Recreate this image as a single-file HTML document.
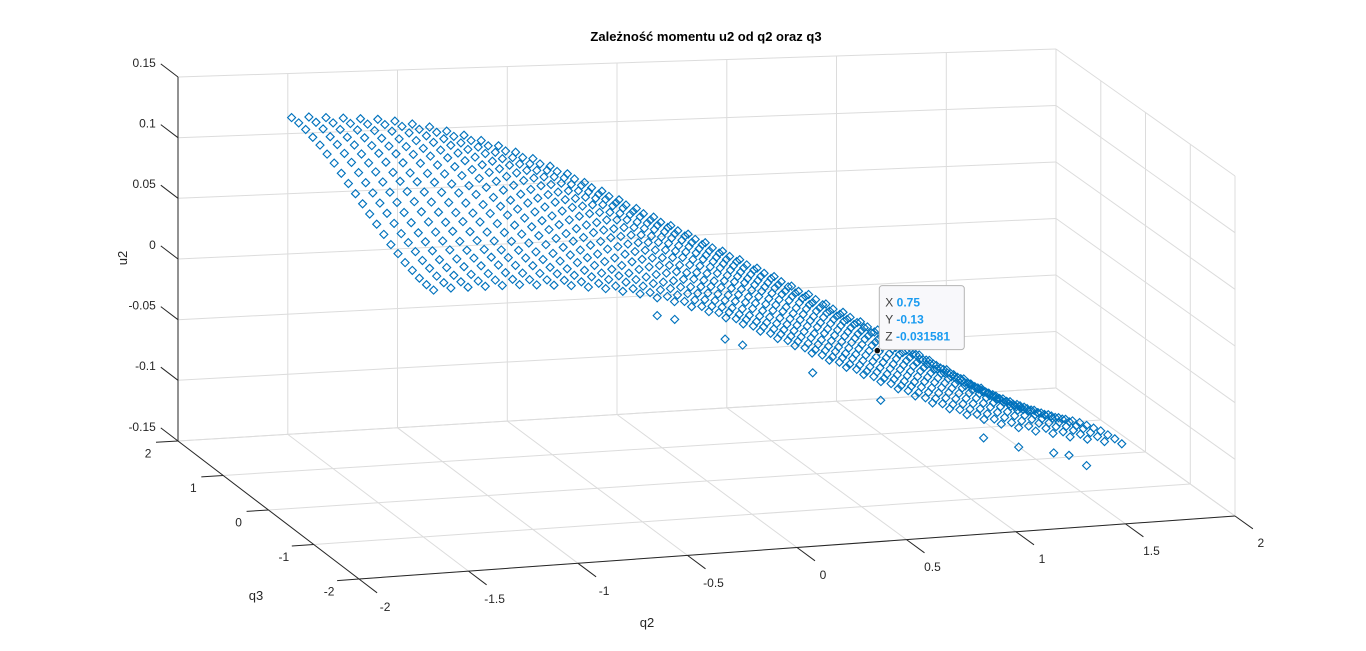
<!DOCTYPE html>
<html><head><meta charset="utf-8"><style>
html,body{margin:0;padding:0;background:#fff;}
svg{display:block;font-family:"Liberation Sans",sans-serif;}
</style></head><body>
<svg id="chart" width="1366" height="651" viewBox="0 0 1366 651" xmlns="http://www.w3.org/2000/svg">
<rect x="0" y="0" width="1366" height="651" fill="#ffffff"/>
<text x="706" y="41" text-anchor="middle" font-size="13" font-weight="bold" fill="#000">Zależność momentu u2 od q2 oraz q3</text>
<g id="grid"></g>
<g id="axes"></g>
<g id="points"></g>
<g id="tip"></g>
</svg>
<script>
const q2Ticks=[-2,-1.5,-1,-0.5,0,0.5,1,1.5,2];
const q2TickLabels=["-2","-1.5","-1","-0.5","0","0.5","1","1.5","2"];
const q3Ticks=[-2,-1,0,1,2];
const q3TickLabels=["-2","-1","0","1","2"];
const u2Ticks=[-0.15,-0.1,-0.05,0,0.05,0.1,0.15];
const u2TickLabels=["-0.15","-0.1","-0.05","0","0.05","0.1","0.15"];
const q2Values=[-1.571,-1.492,-1.414,-1.335,-1.257,-1.178,-1.100,-1.021,-0.942,-0.864,-0.785,-0.707,-0.628,-0.550,-0.471,-0.393,-0.314,-0.236,-0.157,-0.079,0,0.079,0.157,0.236,0.314,0.393,0.471,0.550,0.628,0.707,0.785,0.864,0.942,1.021,1.100,1.178,1.257,1.335,1.414,1.492,1.571];
const q3Values=[-1.571,-1.414,-1.257,-1.100,-0.942,-0.785,-0.628,-0.471,-0.314,-0.157,0,0.157,0.314,0.471,0.628,0.785,0.942,1.100,1.257,1.414,1.571];
const u2Values=[
[.072,.072,.073,.075,.077,.080,.083,.087,.091,.095,.099,.103,.107,.111,.115,.118,.121,.123,.125,.126,.126],
[.073,.073,.074,.076,.078,.081,.084,.087,.091,.095,.099,.103,.107,.111,.115,.118,.121,.123,.125,.126,.126],
[.073,.073,.074,.076,.078,.081,.084,.087,.091,.095,.099,.103,.107,.111,.114,.117,.120,.122,.124,.125,.125],
[.073,.073,.074,.076,.078,.081,.084,.087,.091,.095,.099,.103,.107,.110,.114,.117,.119,.121,.123,.124,.124],
[.073,.073,.074,.076,.078,.080,.083,.087,.090,.094,.098,.102,.106,.109,.113,.116,.118,.120,.122,.123,.123],
[.073,.073,.074,.076,.078,.080,.083,.086,.090,.093,.097,.101,.105,.108,.112,.115,.117,.119,.121,.122,.122],
[.072,.072,.073,.075,.077,.079,.082,.085,.089,.092,.096,.100,.103,.107,.110,.113,.115,.117,.119,.120,.120],
[.071,.071,.072,.074,.076,.078,.081,.084,.087,.091,.094,.098,.101,.105,.108,.111,.113,.115,.116,.117,.117],
[.070,.070,.071,.072,.074,.076,.079,.082,.085,.089,.092,.095,.099,.102,.105,.108,.110,.112,.113,.114,.114],
[.068,.068,.069,.070,.072,.074,.077,.080,.083,.086,.089,.092,.096,.099,.102,.104,.106,.108,.109,.110,.110],
[.066,.066,.067,.068,.070,.072,.074,.077,.080,.083,.086,.089,.092,.095,.098,.100,.102,.104,.105,.106,.106],
[.063,.063,.064,.065,.067,.069,.071,.074,.076,.079,.082,.085,.088,.091,.094,.096,.098,.099,.100,.101,.101],
[.060,.060,.061,.062,.063,.065,.067,.070,.072,.075,.078,.081,.084,.086,.089,.091,.093,.094,.095,.096,.096],
[.056,.056,.057,.058,.059,.061,.063,.066,.068,.071,.073,.076,.079,.081,.083,.085,.087,.088,.089,.090,.090],
[.052,.052,.053,.054,.055,.057,.059,.061,.063,.066,.068,.070,.073,.075,.077,.079,.081,.082,.083,.084,.084],
[.047,.047,.048,.049,.050,.052,.054,.056,.058,.060,.062,.064,.067,.069,.071,.073,.074,.075,.076,.077,.077],
[.042,.042,.043,.044,.045,.046,.048,.050,.052,.054,.056,.058,.060,.062,.064,.066,.067,.068,.069,.070,.070],
[.036,.036,.037,.038,.039,.040,.042,.044,.045,.047,.049,.051,.053,.055,.057,.058,.060,.061,.061,.062,.062],
[.030,.030,.031,.031,.032,.034,.035,.037,.038,.040,.042,.044,.046,.047,.049,.050,.052,.053,.053,.054,.054],
[.023,.023,.024,.024,.025,.027,.028,.030,.031,.033,.035,.037,.038,.040,.041,.043,.044,.045,.045,.046,.046],
[.016,.016,.017,.017,.018,.019,.021,.022,.024,.025,.027,.029,.030,.032,.033,.035,.036,.037,.037,.038,.038],
[.009,.009,.010,.010,.011,.012,.014,.015,.017,.018,.020,.022,.023,.025,.026,.027,.028,.029,.030,.030,.030],
[.002,.002,.003,.003,.004,.005,.006,.007,.009,.010,.012,.014,.015,.017,.018,.019,.020,.021,.022,.022,.022],
[-.005,-.005,-.005,-.004,-.003,-.002,-.001,.000,.002,.003,.005,.006,.008,.009,.010,.011,.012,.013,.014,.014,.014],
[-.012,-.012,-.012,-.011,-.010,-.009,-.008,-.007,-.006,-.004,-.003,-.002,.000,.001,.002,.003,.004,.005,.006,.006,.006],
[-.019,-.019,-.019,-.018,-.017,-.017,-.016,-.015,-.013,-.012,-.011,-.010,-.008,-.007,-.006,-.005,-.004,-.003,-.002,-.002,-.002],
[-.026,-.026,-.026,-.025,-.024,-.024,-.023,-.022,-.020,-.019,-.018,-.017,-.016,-.014,-.013,-.012,-.012,-.011,-.010,-.010,-.010],
[-.033,-.033,-.033,-.032,-.032,-.031,-.030,-.029,-.028,-.027,-.026,-.025,-.024,-.022,-.021,-.020,-.020,-.019,-.018,-.018,-.018],
[-.040,-.040,-.040,-.039,-.039,-.038,-.037,-.036,-.035,-.034,-.033,-.032,-.031,-.030,-.029,-.028,-.027,-.027,-.026,-.026,-.026],
[-.047,-.047,-.047,-.046,-.046,-.045,-.044,-.043,-.043,-.042,-.041,-.040,-.039,-.038,-.037,-.036,-.036,-.036,-.035,-.035,-.035],
[-.053,-.053,-.053,-.052,-.052,-.052,-.051,-.050,-.050,-.049,-.048,-.047,-.046,-.046,-.045,-.044,-.044,-.044,-.043,-.043,-.043],
[-.059,-.059,-.059,-.058,-.058,-.058,-.057,-.057,-.057,-.056,-.055,-.055,-.054,-.054,-.053,-.053,-.052,-.052,-.052,-.052,-.052],
[-.064,-.064,-.064,-.064,-.064,-.063,-.063,-.063,-.063,-.062,-.062,-.062,-.061,-.061,-.061,-.061,-.060,-.060,-.060,-.060,-.060],
[-.069,-.069,-.069,-.069,-.069,-.069,-.069,-.069,-.069,-.069,-.069,-.069,-.069,-.069,-.069,-.069,-.069,-.069,-.069,-.069,-.069],
[-.073,-.073,-.073,-.073,-.073,-.074,-.074,-.074,-.074,-.075,-.075,-.075,-.076,-.076,-.076,-.076,-.077,-.077,-.077,-.077,-.077],
[-.077,-.077,-.077,-.077,-.078,-.078,-.079,-.079,-.080,-.081,-.082,-.082,-.083,-.084,-.085,-.085,-.086,-.086,-.087,-.087,-.087],
[-.080,-.080,-.080,-.081,-.082,-.082,-.083,-.084,-.086,-.087,-.088,-.089,-.090,-.092,-.093,-.094,-.094,-.095,-.096,-.096,-.096],
[-.084,-.084,-.084,-.085,-.086,-.087,-.088,-.090,-.092,-.093,-.095,-.096,-.098,-.100,-.101,-.103,-.103,-.104,-.105,-.106,-.106],
[-.087,-.087,-.088,-.089,-.090,-.091,-.093,-.095,-.097,-.099,-.101,-.103,-.105,-.107,-.109,-.111,-.112,-.113,-.114,-.115,-.115],
[-.090,-.090,-.091,-.092,-.094,-.095,-.097,-.100,-.102,-.105,-.107,-.110,-.112,-.115,-.117,-.119,-.121,-.122,-.123,-.124,-.124],
[-.093,-.093,-.094,-.095,-.097,-.099,-.101,-.104,-.107,-.110,-.113,-.116,-.119,-.122,-.125,-.127,-.129,-.131,-.132,-.133,-.133]
];
const outlierQ2=[-0.55,-0.47,-0.24,-0.16,0.16,0.47,0.94,1.10,1.26,1.33,1.41];
const outlierQ3=[-1.571,-1.571,-1.571,-1.571,-1.571,-1.571,-1.571,-1.571,-1.571,-1.571,-1.571];
const outlierU2=[0.041,0.037,0.018,0.012,-0.015,-0.042,-0.080,-0.090,-0.097,-0.100,-0.110];
const tipQ2=0.75, tipQ3=-0.13, tipU2=-0.043;
const tipLabels=["0.75","-0.13","-0.031581"];

const NS="http://www.w3.org/2000/svg";
const CB={ll:[359,579],rl:[1235,516],lh:[178,441],rh:[1056,388]};
const CT={ll:[359,215],rl:[1235,176],lh:[178,77],rh:[1056,49]};
function bil(C,u,v){
  const a=[C.ll[0]+(C.lh[0]-C.ll[0])*v, C.ll[1]+(C.lh[1]-C.ll[1])*v];
  const b=[C.rl[0]+(C.rh[0]-C.rl[0])*v, C.rl[1]+(C.rh[1]-C.rl[1])*v];
  return [a[0]+(b[0]-a[0])*u, a[1]+(b[1]-a[1])*u];
}
function P(q2,q3,u2){
  const u=(q2+2)/4, v=(q3+2)/4, w=(u2+0.15)/0.3;
  const b=bil(CB,u,v), t=bil(CT,u,v);
  return [b[0]+(t[0]-b[0])*w, b[1]+(t[1]-b[1])*w];
}
function line(g,p,q,stroke,name){
  const l=document.createElementNS(NS,'line');
  l.setAttribute('x1',p[0].toFixed(1));l.setAttribute('y1',p[1].toFixed(1));
  l.setAttribute('x2',q[0].toFixed(1));l.setAttribute('y2',q[1].toFixed(1));
  l.setAttribute('stroke',stroke);l.setAttribute('stroke-width','1');
  
  
  g.appendChild(l);
}
function text(g,x,y,s,anchor,name,size){
  const t=document.createElementNS(NS,'text');
  t.setAttribute('x',x);t.setAttribute('y',y);t.setAttribute('text-anchor',anchor);
  t.setAttribute('font-size',size||12);t.setAttribute('fill','#262626');
  t.textContent=s;
  
  
  g.appendChild(t);return t;
}
const grid=document.getElementById('grid');
const GC='#dcdcdc';
q2Ticks.forEach(x=>line(grid,P(x,2,-0.15),P(x,2,0.15),GC,'back-wall-gridline'));
u2Ticks.forEach(z=>line(grid,P(-2,2,z),P(2,2,z),GC,'back-wall-gridline'));
q3Ticks.forEach(y=>line(grid,P(2,y,-0.15),P(2,y,0.15),GC,'side-wall-gridline'));
u2Ticks.forEach(z=>line(grid,P(2,-2,z),P(2,2,z),GC,'side-wall-gridline'));
q2Ticks.forEach(x=>line(grid,P(x,-2,-0.15),P(x,2,-0.15),GC,'floor-gridline'));
q3Ticks.forEach(y=>line(grid,P(-2,y,-0.15),P(2,y,-0.15),GC,'floor-gridline'));

const axes=document.getElementById('axes');
const AC='#262626';
line(axes,P(-2,2,-0.15),P(-2,2,0.15),AC,'u2-axis-line');
line(axes,P(-2,2,-0.15),P(-2,-2,-0.15),AC,'q3-axis-line');
line(axes,P(-2,-2,-0.15),P(2,-2,-0.15),AC,'q2-axis-line');
u2Ticks.forEach((z,i)=>{
  const a=P(-2,2,z), b=P(-2,2.38,z);
  line(axes,a,b,AC,'u2-tick');
  text(axes,b[0]-5,b[1]+3,u2TickLabels[i],'end','u2-tick-label');
});
q3Ticks.forEach((y,i)=>{
  const a=P(-2,y,-0.15), b=P(-2.1,y,-0.15);
  line(axes,a,b,AC,'q3-tick');
  text(axes,b[0]-8,b[1]+15,q3TickLabels[i],'middle','q3-tick-label');
});
q2Ticks.forEach((x,i)=>{
  const a=P(x,-2,-0.15), b=P(x,-2.4,-0.15);
  line(axes,a,b,AC,'q2-tick');
  text(axes,b[0]+8,b[1]+18,q2TickLabels[i],'middle','q2-tick-label');
});
const ut=text(axes,0,0,'u2','middle','u2-axis-title',13);
ut.setAttribute('transform','translate(127,258) rotate(-90)');
text(axes,256,600,'q3','middle','q3-axis-title',13);
text(axes,647,627,'q2','middle','q2-axis-title',13);

const pts=document.getElementById('points');
const r=4;
function diamond(p){
  const d=document.createElementNS(NS,'path');
  d.setAttribute('d',`M${(p[0]).toFixed(1)} ${(p[1]-r).toFixed(1)}L${(p[0]+r).toFixed(1)} ${p[1].toFixed(1)}L${p[0].toFixed(1)} ${(p[1]+r).toFixed(1)}L${(p[0]-r).toFixed(1)} ${p[1].toFixed(1)}Z`);
  d.setAttribute('fill','none');d.setAttribute('stroke','#0072BD');d.setAttribute('stroke-width','1.15');
  pts.appendChild(d);
  return d;
}
q2Values.forEach((x,i)=>{
  q3Values.forEach((y,j)=>{
    const d=diamond(P(x,y,u2Values[i][j]));
    
    
  });
});
outlierQ2.forEach((x,k)=>{
  const d=diamond(P(x,outlierQ3[k],outlierU2[k]));
  
  
});

const tip=document.getElementById('tip');
const tp=P(tipQ2,tipQ3,tipU2);
const box=document.createElementNS(NS,'rect');
box.setAttribute('x',(tp[0]+2).toFixed(1));box.setAttribute('y',(tp[1]-65).toFixed(1));
box.setAttribute('width','85');box.setAttribute('height','64');box.setAttribute('rx','3');
box.setAttribute('fill','#f8f8fb');box.setAttribute('stroke','#b4b4b4');


tip.appendChild(box);
["X","Y","Z"].forEach((k,i)=>{
  const t=document.createElementNS(NS,'text');
  t.setAttribute('x',(tp[0]+8).toFixed(1));t.setAttribute('y',(tp[1]-44+i*17).toFixed(1));
  t.setAttribute('font-size','12');t.setAttribute('fill','#404040');
  t.textContent=k+' ';
  const s=document.createElementNS(NS,'tspan');
  s.setAttribute('fill','#1a9bf0');s.setAttribute('font-weight','bold');
  s.textContent=tipLabels[i];
  t.appendChild(s);
  
  
  tip.appendChild(t);
});
const dot=document.createElementNS(NS,'circle');
dot.setAttribute('cx',tp[0].toFixed(1));dot.setAttribute('cy',tp[1].toFixed(1));dot.setAttribute('r','3.2');
dot.setAttribute('fill','#111');dot.setAttribute('stroke','#fff');dot.setAttribute('stroke-width','0.8');


tip.appendChild(dot);
</script>
</body></html>
